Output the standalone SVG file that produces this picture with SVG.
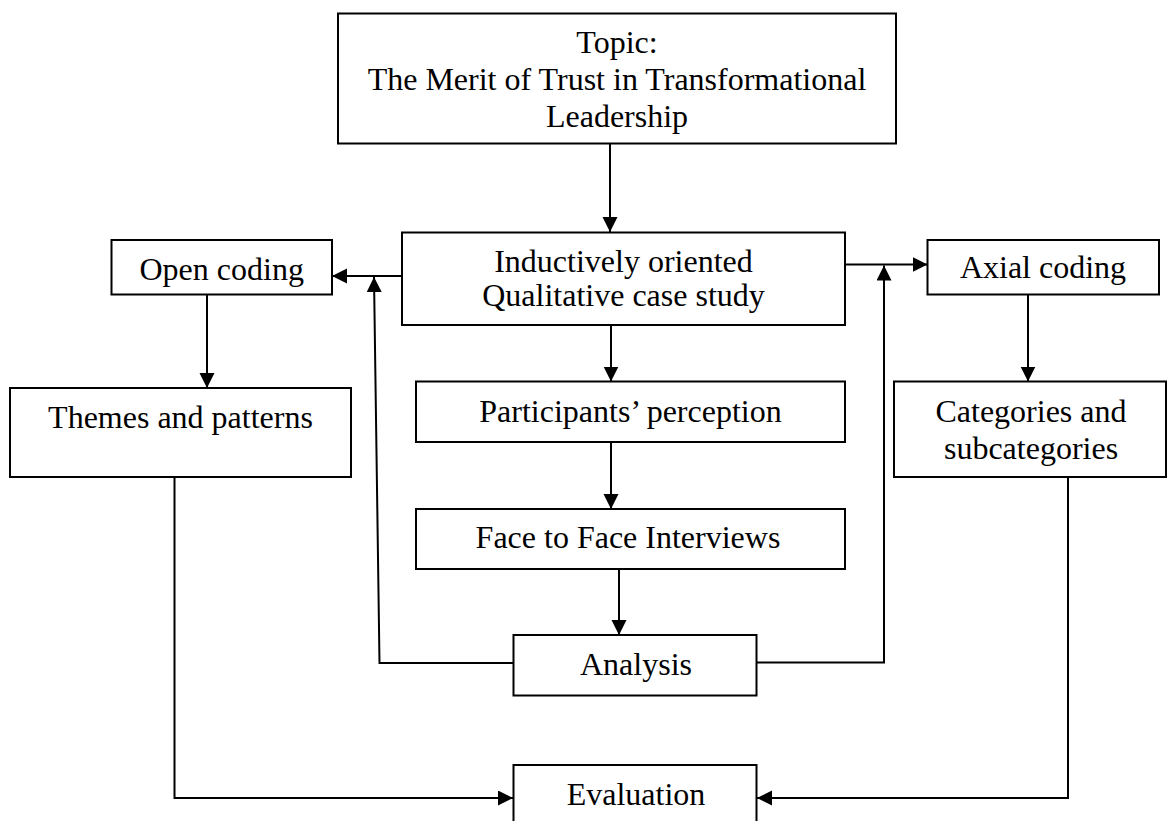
<svg xmlns="http://www.w3.org/2000/svg" width="1167" height="821" viewBox="0 0 1167 821">
  <style>
    .box { fill: #ffffff; stroke: #000000; stroke-width: 2; }
    .lbl { font-family: "Liberation Serif", "Times New Roman", serif; font-size: 32px; fill: #000000; text-anchor: middle; }
    .wire { fill: none; stroke: #000000; stroke-width: 2; }
    .arrow { marker-end: url(#head); }
  </style>
  <defs>
    <marker id="head" markerWidth="16" markerHeight="16" refX="15" refY="7.5" orient="auto" markerUnits="userSpaceOnUse">
      <path d="M0,0 L15,7.5 L0,15 Z" fill="#000000"/>
    </marker>
  </defs>

  <rect width="1167" height="821" fill="#ffffff"/>

  <!-- connectors -->
  <g id="connectors">
    <line class="wire arrow" x1="610" y1="144" x2="610" y2="232"/>
    <line class="wire arrow" x1="402" y1="276" x2="332" y2="276"/>
    <line class="wire arrow" x1="845" y1="264.5" x2="927.5" y2="264.5"/>
    <line class="wire arrow" x1="207" y1="294.5" x2="207" y2="388"/>
    <line class="wire arrow" x1="1028" y1="294.5" x2="1028" y2="381.5"/>
    <line class="wire arrow" x1="611" y1="325" x2="611" y2="381.5"/>
    <line class="wire arrow" x1="611" y1="442" x2="611" y2="509"/>
    <line class="wire arrow" x1="619" y1="569" x2="619" y2="635"/>
    <polyline class="wire arrow" points="513.5,663 379.5,663 374,277"/>
    <polyline class="wire arrow" points="756.5,662.5 884,662.5 884,265.5"/>
    <polyline class="wire arrow" points="174.5,477 174.5,798 513,798"/>
    <polyline class="wire arrow" points="1068,477 1068,798 757,798"/>
  </g>

  <g id="topic">
    <rect class="box" x="338" y="13.5" width="558" height="130"/>
    <text class="lbl" x="617" y="53">Topic:</text>
    <text class="lbl" x="617" y="90">The Merit of Trust in Transformational</text>
    <text class="lbl" x="617" y="127">Leadership</text>
  </g>

  <g id="inductive">
    <rect class="box" x="402" y="232.5" width="443" height="92.5"/>
    <text class="lbl" x="623.5" y="272">Inductively oriented</text>
    <text class="lbl" x="623.5" y="305.5">Qualitative case study</text>
  </g>

  <g id="open-coding">
    <rect class="box" x="111.5" y="240" width="220.5" height="54.5"/>
    <text class="lbl" x="221.7" y="280">Open coding</text>
  </g>

  <g id="axial-coding">
    <rect class="box" x="927.5" y="240" width="231.5" height="54.5"/>
    <text class="lbl" x="1043" y="278">Axial coding</text>
  </g>

  <g id="themes">
    <rect class="box" x="10" y="388" width="341" height="89"/>
    <text class="lbl" x="180.5" y="428">Themes and patterns</text>
  </g>

  <g id="categories">
    <rect class="box" x="894" y="381.5" width="272" height="95.5"/>
    <text class="lbl" x="1031" y="421.5">Categories and</text>
    <text class="lbl" x="1031" y="458.5">subcategories</text>
  </g>

  <g id="participants">
    <rect class="box" x="416" y="381.5" width="429" height="60.5"/>
    <text class="lbl" x="630.5" y="422">Participants’ perception</text>
  </g>

  <g id="interviews">
    <rect class="box" x="416" y="509" width="429" height="60"/>
    <text class="lbl" x="628" y="548">Face to Face Interviews</text>
  </g>

  <g id="analysis">
    <rect class="box" x="513.5" y="635" width="243" height="60.5"/>
    <text class="lbl" x="636" y="675">Analysis</text>
  </g>

  <g id="evaluation">
    <rect class="box" x="513.5" y="765" width="243" height="70"/>
    <text class="lbl" x="636" y="805">Evaluation</text>
  </g>
</svg>
